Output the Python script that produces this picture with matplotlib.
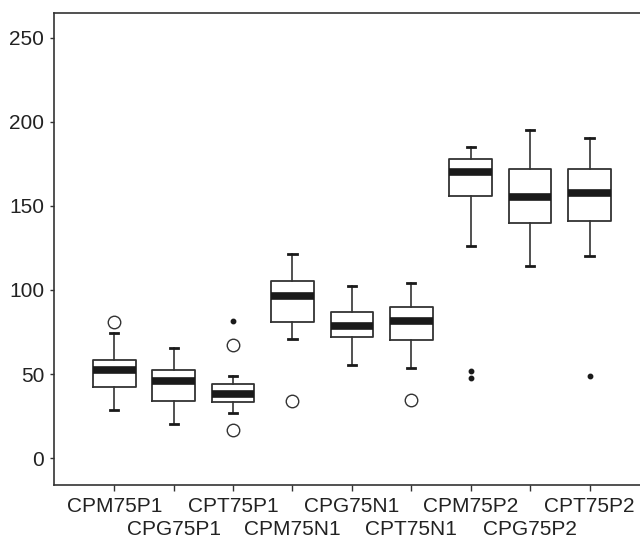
import matplotlib
matplotlib.use("Agg")
import matplotlib.pyplot as plt
import numpy as np

plt.rcParams['font.family'] = ['Liberation Sans', 'DejaVu Sans']

labels = ['CPM75P1', 'CPG75P1', 'CPT75P1', 'CPM75N1', 'CPG75N1',
          'CPT75N1', 'CPM75P2', 'CPG75P2', 'CPT75P2']
whislo = [28.7, 20.6, 26.9, 70.9, 55.4, 53.7, 126.1, 114.3, 120.2]
q1 = [42.2, 34.2, 33.6, 80.8, 72.3, 70.3, 155.7, 140.0, 141.2]
med = [52.5, 45.7, 38.4, 96.4, 78.4, 81.8, 170.1, 155.4, 157.8]
q3 = [58.6, 52.3, 44.0, 105.3, 86.9, 89.9, 178.0, 171.9, 172.1]
whishi = [74.6, 65.5, 48.9, 121.4, 102.6, 104.2, 185.2, 195.2, 190.5]
# open circles (outliers) and small filled dots (extremes)
outliers = [[81.0], [], [67.3, 16.8], [34.0], [], [34.6], [], [], []]
extremes = [[], [], [81.6], [], [], [], [52.0, 47.7], [], [48.9]]

stats = []
for i in range(len(labels)):
    stats.append(dict(label=labels[i], whislo=whislo[i], q1=q1[i], med=med[i],
                      q3=q3[i], whishi=whishi[i], fliers=outliers[i]))

fig = plt.figure(figsize=(6.4, 5.42), dpi=100)
ax = fig.add_axes([54 / 640, 1 - 485 / 542, 1 - 54 / 640, (485 - 12.7) / 542])

pos = np.arange(1, len(labels) + 1)
ink = '#333333'
ax.bxp(stats, positions=pos, widths=0.72, showfliers=True,
       boxprops=dict(color=ink, linewidth=1.3),
       medianprops=dict(color='#1a1a1a', linewidth=5.5, solid_capstyle='butt'),
       whiskerprops=dict(color=ink, linewidth=1.2),
       capprops=dict(color='#1a1a1a', linewidth=2.0),
       capwidths=0.14,
       flierprops=dict(marker='o', markersize=9, markerfacecolor='white',
                       markeredgecolor=ink, markeredgewidth=1.0))

for p, ext in zip(pos, extremes):
    if ext:
        ax.plot([p] * len(ext), ext, 'o', color='#1a1a1a', markersize=3.2)

ax.set_xlim(-0.015, 9.85)
ax.set_ylim(-15.9, 264.8)
ax.set_yticks([0, 50, 100, 150, 200, 250])

# labels alternate between two rows
ax.set_xticks(pos[0::2])
ax.set_xticklabels(labels[0::2])
ax.set_xticks(pos[1::2], minor=True)
ax.set_xticklabels(labels[1::2], minor=True)
ax.tick_params(axis='x', which='both', length=4, width=1, color=ink,
               labelsize=15, labelcolor='#222222')
ax.tick_params(axis='x', which='major', pad=5)
ax.tick_params(axis='x', which='minor', pad=21)
ax.tick_params(axis='y', length=3, width=1, color=ink, pad=4,
               labelsize=15, labelcolor='#222222')

for s in ['left', 'top', 'bottom']:
    ax.spines[s].set_color(ink)
    ax.spines[s].set_linewidth(1.2)
ax.spines['right'].set_visible(False)

fig.savefig('out.png', dpi=100)
